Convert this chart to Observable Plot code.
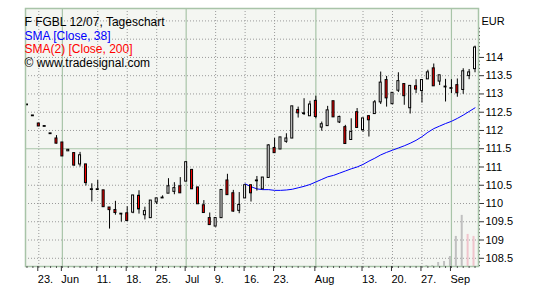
<!DOCTYPE html>
<html><head><meta charset="utf-8">
<script src="https://cdn.jsdelivr.net/npm/d3@7"></script>
<script src="https://cdn.jsdelivr.net/npm/@observablehq/plot@0.6"></script>
<style>
body{margin:0;background:#fff;}
#chart svg{display:block;}
</style></head><body><div id="chart"></div>
<script>
// Daily OHLC, FGBL 12/07 (trading days 24 May – 7 Sep 2007), index 0..76
const open  = [112.70,112.40,112.18,112.11,111.91,111.77,111.66,111.44,111.37,111.08,
               111.06,110.38,110.38,110.35,109.88,109.81,109.71,109.72,109.76,110.20,
               109.69,109.61,110.04,110.15,110.28,110.33,110.46,110.61,110.91,110.43,
               109.94,109.59,109.38,109.61,110.62,110.27,109.81,110.15,110.49,110.62,
               110.40,110.71,111.51,111.49,111.70,111.79,112.55,112.46,112.40,112.80,
               112.09,112.13,112.79,112.23,112.08,111.75,112.49,112.02,112.38,112.46,
               112.78,113.37,112.73,113.10,113.26,112.62,113.20,113.09,113.41,113.69,
               113.35,113.19,113.15,113.23,113.12,113.50,113.69];
const high  = [112.70,112.40,112.18,112.11,111.91,111.86,111.66,111.47,111.37,111.40,
               111.06,110.54,110.63,110.35,109.88,110.06,109.71,109.91,110.21,110.35,
               109.90,110.07,110.13,110.21,110.68,110.57,110.71,111.14,110.91,110.43,
               110.08,109.74,109.59,110.36,110.80,110.36,110.30,110.49,110.49,110.74,
               110.70,111.61,111.78,111.80,111.91,112.65,112.64,112.87,112.80,112.94,
               112.23,112.66,112.79,112.39,112.14,112.32,112.60,112.32,112.41,112.82,
               113.60,113.48,113.02,113.58,113.26,113.21,113.39,113.37,113.65,113.82,
               113.50,113.40,113.39,113.41,113.69,113.67,114.31];
const low   = [112.70,112.40,112.11,112.11,111.91,111.63,111.30,111.43,111.02,111.00,
               110.48,110.04,110.38,109.91,109.30,109.68,109.49,109.53,109.72,109.71,
               109.55,109.61,109.97,110.15,110.28,110.24,110.29,110.61,110.40,109.99,
               109.75,109.40,109.36,109.61,110.24,109.76,109.72,110.15,110.04,110.34,
               110.40,110.71,111.39,111.49,111.65,111.79,112.34,112.41,112.40,112.32,
               111.98,112.13,112.37,112.19,111.64,111.75,112.08,111.95,111.82,112.46,
               112.71,112.64,112.73,113.04,112.69,112.45,113.01,112.75,113.41,113.22,
               113.23,112.78,113.01,112.91,112.99,113.39,113.58];
const close = [112.70,112.40,112.12,112.11,111.91,111.65,111.30,111.46,111.05,111.31,
               110.57,110.38,110.38,109.91,109.83,109.75,109.71,109.53,110.21,109.85,
               109.78,110.07,110.13,110.15,110.46,110.41,110.29,111.12,110.40,109.99,
               109.75,109.42,109.59,110.36,110.24,109.79,109.95,110.49,110.29,110.62,
               110.70,111.58,111.39,111.80,111.77,112.65,112.48,112.46,112.70,112.38,
               112.16,112.54,112.37,112.36,111.64,111.95,112.08,112.32,112.29,112.76,
               113.30,112.89,113.02,113.34,112.95,113.21,113.13,113.37,113.58,113.22,
               113.50,113.19,113.15,113.03,113.61,113.58,114.26];

// SMA [Close, 38], drawn from index 37 on
const smaStart = 37;
const sma38 = [110.54,110.46,110.40,110.38,110.38,110.36,110.36,110.37,110.39,110.43,
               110.47,110.52,110.59,110.66,110.73,110.77,110.83,110.89,110.95,111.00,
               111.07,111.16,111.24,111.33,111.40,111.46,111.52,111.58,111.65,111.73,
               111.83,111.95,112.05,112.12,112.19,112.25,112.33,112.42,112.52,112.62];

// Volume of the contract (relative units), last days only
const volIndex = [68,69,70,71,72,73,74,75,76];
const volume   = [1,1,4,5,10,30,51,32,30];
const volKind  = ["grey","grey","grey","grey","grey","grey","grey","pink","pink"];

// x-axis tick labels (trading-day index)
const tickIndex  = [2,6,12,17,22,27,32,37,42,49,57,62,67,72];
const tickLabels = ["23.","Jun","11.","18.","25.","Jul","9.","16.","23.","Aug","13.","20.","27.","Sep"];
const monthTicks = [6,27,49,72];

// y-axis labels
const yLabels = [108.5,109,109.5,110,110.5,111,111.5,112,112.5,113,113.5,114];
const yGrid   = [108.5,109,109.5,110,110.5,111,112,112.5,113,113.5,114,114.5,115];
const ySolid  = [111.5];

const legendLines  = ["F FGBL 12/07, Tageschart","SMA [Close, 38]","SMA(2) [Close, 200]","\u00A9 www.tradesignal.com"];
const legendColors = ["#000000","#0000ff","#ff0000","#000000"];

const N = open.length;
const idx = d3.range(N);
const candles = idx.map(i => ({i, o: open[i], h: high[i], l: low[i], c: close[i]}));
const sma = sma38.map((v, k) => ({i: smaStart + k, v}));
const vols = volume.map((v, k) => ({i: volIndex[k], v, kind: volKind[k]}));
const weekTicks = tickIndex.filter(t => !monthTicks.includes(t));
const labelOf = new Map(tickIndex.map((t, k) => [t, tickLabels[k]]));
const minorY = d3.range(1083, 1149, 1).map(v => v / 10);

const yMin = 108.275, yMax = 115.34;
const volUnit = 1.4 / d3.max(volume);

const solid = "#a8c4a8";
const dotted = "#9a9a9a";

const plot = Plot.plot({
  width: 536, height: 299,
  marginLeft: 25, marginRight: 58, marginTop: 8, marginBottom: 33,
  x: {domain: [-0.254, 76.59], axis: null},
  y: {domain: [yMin, yMax], axis: null},
  style: {fontFamily: "'Liberation Sans', Arial, sans-serif", fontSize: "11px", background: "white", color: "black"},
  marks: [
    Plot.frame({fill: "#f4f6f2"}),
    Plot.gridY(yGrid, {stroke: dotted, strokeOpacity: 1, strokeDasharray: "1,2"}),
    Plot.gridX(weekTicks, {stroke: dotted, strokeOpacity: 1, strokeDasharray: "1,2"}),
    Plot.ruleY(ySolid, {stroke: solid, strokeWidth: 1.2}),
    Plot.ruleX(monthTicks, {stroke: solid, strokeWidth: 1.2}),
    Plot.ruleX(vols, {x: "i", y1: () => yMin, y2: d => yMin + d.v * volUnit,
      stroke: d => d.kind === "pink" ? "#f0c4cc" : "#c0c0c0", strokeWidth: 2, dx: -1.5}),
    Plot.lineY(sma, {x: "i", y: "v", stroke: "#0000ff", strokeWidth: 1}),
    Plot.ruleX(candles, {x: "i", y1: "l", y2: "h", stroke: "black", strokeWidth: 1}),
    Plot.rect(candles, {x1: d => d.i - 0.5, x2: d => d.i + 0.5, y1: "o", y2: "c",
      insetLeft: 1.95, insetRight: 1.95, insetTop: -0.4, insetBottom: -0.4,
      fill: d => d.c < d.o ? "#ff0000" : "white", stroke: "black", strokeWidth: 1}),
    Plot.frame({stroke: solid, strokeWidth: 1.5}),
    Plot.axisY(yLabels, {anchor: "right", tickSize: 5, tickPadding: 2, label: null,
      tickFormat: d => String(+d.toFixed(1)), stroke: "#333"}),
    Plot.axisY(minorY, {anchor: "right", tickSize: 2, label: null, tickFormat: () => "", stroke: "#555", strokeDasharray: "1,1"}),
    Plot.axisX(tickIndex, {anchor: "bottom", tickSize: 5, tickPadding: 4, label: null,
      tickFormat: d => labelOf.get(d), textAnchor: "start", dx: -1, stroke: "#333"}),
    Plot.axisX(idx, {anchor: "bottom", tickSize: 2, label: null, tickFormat: () => "", stroke: "#555"}),
    ...legendLines.map((t, k) => Plot.text([t], {frameAnchor: "top-left", dx: -1, dy: 9 + 13.5 * k,
      textAnchor: "start", fill: legendColors[k], fontSize: 12})),
    Plot.text(["EUR"], {frameAnchor: "top-right", dx: 3, dy: 9, textAnchor: "start", fill: "black"})
  ]
});
document.getElementById("chart").appendChild(plot);
</script>
</body></html>
